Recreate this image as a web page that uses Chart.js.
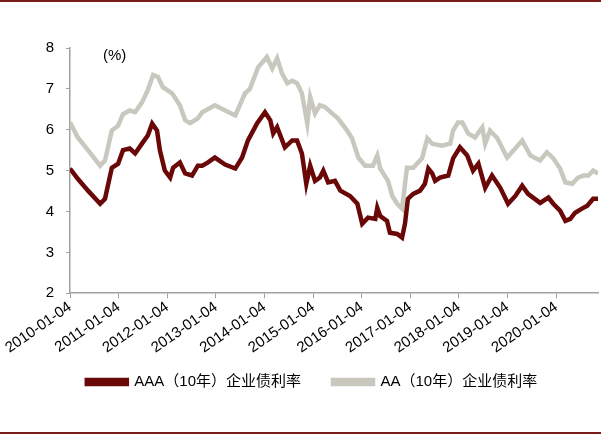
<!DOCTYPE html>
<html><head><meta charset="utf-8">
<script src="https://cdn.jsdelivr.net/npm/chart.js@4/dist/chart.umd.min.js"></script>
<style>
html,body{margin:0;padding:0;background:#fff;}
#wrap{position:relative;width:601px;height:437px;}
#topline{position:absolute;left:0;top:0;width:601px;height:2px;background:#7A1A1A;}
#botline{position:absolute;left:0;top:432px;width:601px;height:2px;background:#7A1A1A;}
canvas{position:absolute;left:0;top:0;}
</style></head>
<body><div id="wrap"><canvas id="c" width="601" height="437"></canvas><div id="topline"></div><div id="botline"></div></div>
<script>
// years elapsed since 2010-01-04
const aaaT = [0,0.16,0.37,0.62,0.72,0.86,0.99,1.09,1.23,1.34,1.48,1.60,1.69,1.79,1.85,1.95,2.06,2.12,2.26,2.37,2.51,2.63,2.72,2.84,2.98,3.19,3.40,3.54,3.66,3.85,4.01,4.12,4.18,4.26,4.42,4.57,4.67,4.77,4.86,4.94,5.04,5.14,5.21,5.31,5.45,5.56,5.76,5.91,6.01,6.13,6.28,6.32,6.38,6.52,6.58,6.73,6.83,6.89,6.95,7.06,7.20,7.30,7.37,7.45,7.51,7.61,7.78,7.88,8.02,8.17,8.29,8.40,8.54,8.68,8.85,9.01,9.16,9.30,9.42,9.67,9.84,9.94,10.08,10.19,10.29,10.39,10.53,10.64,10.76,10.86];
const aaaRate = [5.05,4.80,4.51,4.19,4.31,5.07,5.17,5.50,5.54,5.42,5.66,5.86,6.15,5.98,5.49,5.00,4.83,5.07,5.20,4.93,4.88,5.12,5.12,5.20,5.32,5.15,5.05,5.32,5.74,6.16,6.43,6.23,5.91,6.06,5.57,5.74,5.74,5.42,4.68,5.12,4.75,4.83,5.00,4.71,4.75,4.51,4.38,4.19,3.70,3.85,3.82,4.09,3.89,3.77,3.48,3.45,3.36,3.70,4.31,4.43,4.51,4.68,5.05,4.93,4.75,4.83,4.88,5.30,5.57,5.37,5.00,5.17,4.58,4.88,4.58,4.19,4.38,4.63,4.43,4.21,4.34,4.19,4.02,3.77,3.82,3.97,4.07,4.14,4.31,4.31];
const aaT = [0,0.16,0.37,0.62,0.72,0.86,0.99,1.09,1.23,1.34,1.48,1.60,1.71,1.81,1.91,2.10,2.26,2.37,2.47,2.63,2.72,2.98,3.40,3.60,3.70,3.87,4.05,4.16,4.26,4.36,4.47,4.57,4.67,4.77,4.88,4.94,5.04,5.14,5.25,5.39,5.51,5.70,5.80,5.93,6.07,6.23,6.32,6.38,6.54,6.63,6.73,6.83,6.93,7.06,7.24,7.35,7.45,7.65,7.82,7.88,7.98,8.07,8.19,8.33,8.48,8.54,8.64,8.79,8.99,9.12,9.30,9.47,9.67,9.81,9.94,10.08,10.19,10.33,10.45,10.56,10.66,10.76,10.86];
const aaRate = [6.18,5.81,5.50,5.12,5.25,5.98,6.10,6.38,6.47,6.43,6.67,6.97,7.34,7.29,7.04,6.89,6.60,6.23,6.16,6.28,6.43,6.60,6.35,6.89,7.00,7.53,7.78,7.50,7.75,7.38,7.14,7.20,7.14,6.89,6.16,6.80,6.40,6.60,6.55,6.40,6.28,5.98,5.79,5.32,5.12,5.12,5.37,5.05,4.75,4.38,4.19,4.07,5.07,5.07,5.30,5.79,5.66,5.61,5.66,5.98,6.18,6.18,5.91,5.81,6.06,5.66,5.98,5.79,5.32,5.49,5.74,5.37,5.25,5.45,5.30,5.05,4.71,4.68,4.83,4.88,4.88,5.00,4.93];
const seriesNames = ['AAA（10年）企业债利率','AA（10年）企业债利率'];
const yTicks = [2,3,4,5,6,7,8];
const startYear = 2010;

const FONT = '"Liberation Sans", Arial, "Noto Sans CJK SC", sans-serif';
const pts = (t, v) => t.map((x, i) => ({x: x, y: v[i]}));

const unitLabel = {
  id: 'unitLabel',
  afterDraw(chart) {
    const {ctx, chartArea} = chart;
    ctx.save();
    ctx.font = '15px ' + FONT;
    ctx.fillStyle = '#000';
    ctx.textBaseline = 'middle';
    ctx.fillText('(%)', chartArea.left + 33, chartArea.top + 8);
    ctx.restore();
  }
};

const legendPlace = {
  id: 'legendPlace',
  beforeDraw(chart) {
    const lg = chart.legend;
    if (!lg) return;
    const dx = 13;
    const newTop = 382 - 32 - 7.5;
    const h = lg.bottom - lg.top;
    lg.left += dx; lg.right += dx;
    lg.top = newTop; lg.bottom = newTop + h;
  }
};

new Chart(document.getElementById('c'), {
  type: 'line',
  data: {
    datasets: [
      {label: seriesNames[0], data: pts(aaaT, aaaRate), borderColor: '#6A0808', backgroundColor: '#6A0808', borderWidth: 4.5, pointRadius: 0, tension: 0},
      {label: seriesNames[1], data: pts(aaT, aaRate), borderColor: '#C8C8BE', backgroundColor: '#C8C8BE', borderWidth: 4.5, pointRadius: 0, tension: 0}
    ]
  },
  options: {
    responsive: false,
    animation: false,
    layout: {padding: {top: 48, right: 3, left: 0, bottom: 23}},
    plugins: {
      tooltip: {enabled: false},
      legend: {
        position: 'bottom',
        labels: {
          color: '#000',
          font: {family: FONT, size: 15},
          boxWidth: 40,
          boxHeight: 4,
          padding: 32
        }
      }
    },
    scales: {
      x: {
        type: 'linear',
        min: 0,
        max: 10.86,
        border: {color: '#A0A0A0', width: 1.5},
        grid: {display: true, drawOnChartArea: false, drawTicks: true, tickLength: 5, color: '#A0A0A0'},
        ticks: {
          stepSize: 1,
          includeBounds: false,
          autoSkip: false,
          maxRotation: 35,
          minRotation: 35,
          color: '#000',
          font: {family: FONT, size: 15},
          padding: 0,
          callback: v => (Number.isInteger(v) ? (startYear + v) + '-01-04' : '')
        },
        afterBuildTicks: s => { s.ticks = []; for (let i = 0; i <= 10; i++) s.ticks.push({value: i}); }
      },
      y: {
        min: 2,
        max: 8,
        border: {color: '#A0A0A0', width: 1.5},
        grid: {display: true, drawOnChartArea: false, drawTicks: true, tickLength: 4, color: '#A0A0A0'},
        ticks: {stepSize: 1, color: '#000', font: {family: FONT, size: 15}, padding: 12},
        afterBuildTicks: s => { s.ticks = yTicks.map(v => ({value: v})); },
        afterFit: s => { s.width = 70; }
      }
    }
  },
  plugins: [unitLabel, legendPlace]
});
</script></body></html>
